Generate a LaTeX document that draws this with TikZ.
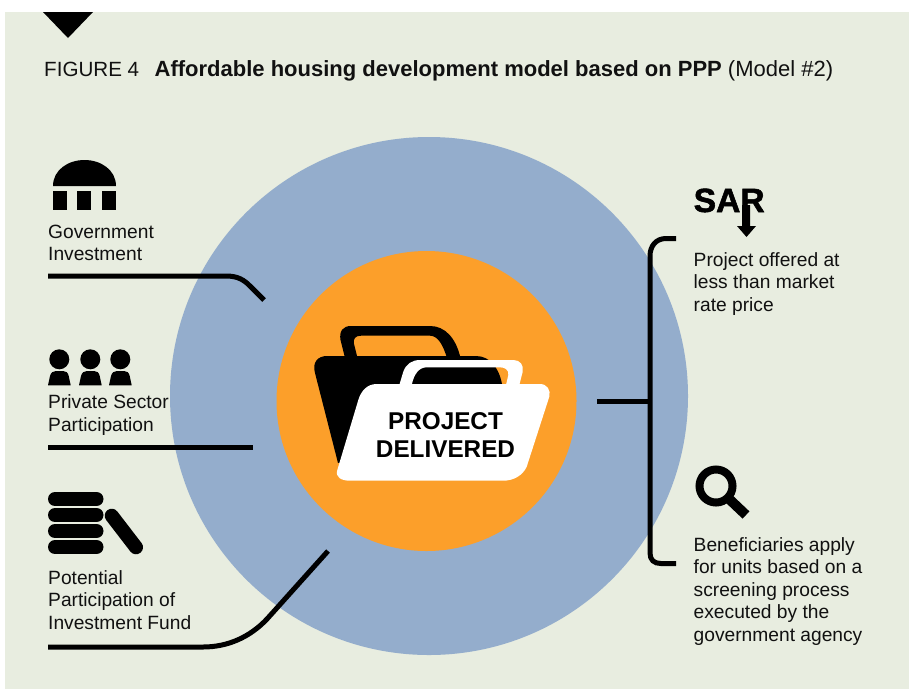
\documentclass[tikz,border=0pt]{standalone}
\usepackage{fontspec}
\setmainfont{Liberation Sans}
\newfontfamily\heavyfont{Liberation Sans}[BoldFeatures={FakeBold=1.6}]
\definecolor{bgc}{HTML}{E8EDE0}
\definecolor{bluec}{HTML}{94ADCC}
\definecolor{orangec}{HTML}{FC9F2A}
\definecolor{inkc}{HTML}{111111}
\tikzset{
  lbl/.style={anchor=base west,align=left,inner sep=0pt,text=inkc,font=\fontsize{19.2}{22.4}\selectfont},
  conn/.style={draw=black,line width=5pt},
  pill/.style={draw=black,line width=14pt,line cap=round},
  ico/.style={fill=black,draw=none}
}
\begin{document}
\begin{tikzpicture}[x=1pt,y=-1pt]
\useasboundingbox (0,0) rectangle (909,689);
\fill[white] (0,0) rectangle (909,689);
\fill[bgc] (5,12) rectangle (909,689);
\fill[ico] (43,12) -- (93,12) -- (68,38) -- cycle;
\node[anchor=base west,inner sep=0pt,text=inkc,font=\fontsize{22}{24}\selectfont] (title) at (44,76)
  {{\fontsize{20.6}{24}\selectfont FIGURE 4}\hspace{15.5pt}\textbf{Affordable housing development model based on PPP} (Model \#2)};
% circles
\node[circle,fill=bluec,minimum size=518pt,inner sep=0pt] (outer) at (429,396) {};
\node[circle,fill=orangec,minimum size=300pt,inner sep=0pt] (inner) at (426.5,401) {};
% black folder
\fill[ico] (327,356) -- (476,356) .. controls (490,356) and (499,368) .. (502,384) -- (502,430) -- (338,463) -- (315,373) .. controls (312,362) and (318,356) .. (327,356) -- cycle;
\fill[ico] (345,358) -- (340.5,340) .. controls (339,331) and (343,326) .. (351,326) -- (430,326) .. controls (445,326) and (456,338) .. (460.5,358) -- (447,358) .. controls (443,345) and (438,335.7) .. (430,335.7) -- (361,335.7) .. controls (355,335.7) and (353,339) .. (354,344) -- (357.5,358) -- cycle;
% white folder
\fill[white] (399.3,385) -- (403.3,371.7) .. controls (406,364) and (412,360) .. (420,360) -- (513.3,360) .. controls (520,360) and (524,365) .. (522.7,371.7) -- (519.3,385) -- (506,385) -- (508.3,375) .. controls (509,370) and (505,367.3) .. (500,367.3) -- (426.7,367.3) .. controls (419,367.3) and (414,374) .. (411.7,385) -- cycle;
\fill[white] (376.7,384) -- (540,384) .. controls (547,384) and (551,390) .. (549.3,396.7) -- (526.7,466.7) .. controls (523,475) and (514,480.7) .. (503.3,480.7) -- (350,480.7) .. controls (341,480.7) and (335,477) .. (337.3,470) -- (358.3,400) .. controls (361,391) and (367,384) .. (376.7,384) -- cycle;
\node[anchor=base,inner sep=0pt,text=black,font=\fontsize{24.3}{28}\selectfont\bfseries] (proj) at (445.5,429) {PROJECT};
\node[anchor=base,inner sep=0pt,text=black,font=\fontsize{24.3}{28}\selectfont\bfseries] (deliv) at (445.5,457) {DELIVERED};
% dome icon
\fill[ico] (53,186) .. controls (53,170) and (68,160) .. (84.5,160) .. controls (101,160) and (116,170) .. (116,186) -- cycle;
\fill[ico] (53,191) rectangle (67,210);
\fill[ico] (77,191) rectangle (91,210);
\fill[ico] (102,191) rectangle (116,210);
% people icon
\foreach \hx/\bx in {59.3/48,90.3/79,120.3/109}{
  \fill[ico] (\hx,359.3) circle (10pt);
  \fill[ico] (\bx,385.3) -- (\bx+2,376) .. controls (\bx+3,372.5) and (\bx+5,371) .. (\bx+8,371) -- (\bx+15,371) .. controls (\bx+18,371) and (\bx+20,372.5) .. (\bx+20.7,376) -- (\bx+22.7,385.3) -- cycle;
}
% coins icon
\foreach \py in {499,515,531,547}{
  \draw[pill] (55,\py) -- (96.5,\py);
}
\draw[pill] (111.7,515.7) -- (136,547.3);
% labels left
\node[lbl] (gov) at (48,260.5) {Government\\Investment};
\node[lbl] (priv) at (48,431) {Private Sector\\Participation};
\node[lbl] (fund) at (48,629) {Potential\\Participation of\\Investment Fund};
% connectors left
\coordinate (g0) at (48,276); \coordinate (g1) at (264,300);
\coordinate (p0) at (48,447.5); \coordinate (p1) at (253,447.5);
\coordinate (f0) at (48,647); \coordinate (f1) at (328,551);
\draw[conn] (g0) -- (226,276) .. controls (238,276) and (244,280) .. (250,286) -- (g1);
\draw[conn] (p0) -- (p1);
\draw[conn] (f0) -- (203,647) .. controls (228,647) and (250,637) .. (267,619) -- (f1);
% bracket
\coordinate (b0) at (597,401); \coordinate (bm) at (650,401);
\coordinate (bt) at (676,238.5); \coordinate (bb) at (676,563.5);
\draw[conn] (b0) -- (bm);
\draw[conn] (bt) -- (666,238.5) .. controls (656,238.5) and (650,246) .. (650,256) -- (650,553) .. controls (650,560) and (654,563.5) .. (661,563.5) -- (bb);
% SAR
\node[anchor=base west,inner sep=0pt,text=black,font=\heavyfont\fontsize{33.6}{36}\selectfont\bfseries] (sar) at (693.5,212) {SAR};
\fill[ico] (742,205) -- (750,205) -- (750,226) -- (756,226) -- (746.5,237) -- (737,226) -- (742,226) -- cycle;
\node[lbl] (offer) at (693.5,311) {Project offered at\\less than market\\rate price};
% magnifier
\draw[black,line width=8pt] (716,486) circle (16.5pt);
\draw[black,line width=10pt] (727,497) -- (746,515);
\node[lbl] (benef) at (693.5,641) {Beneficiaries apply\\for units based on a\\screening process\\executed by the\\government agency};
\end{tikzpicture}
\end{document}
